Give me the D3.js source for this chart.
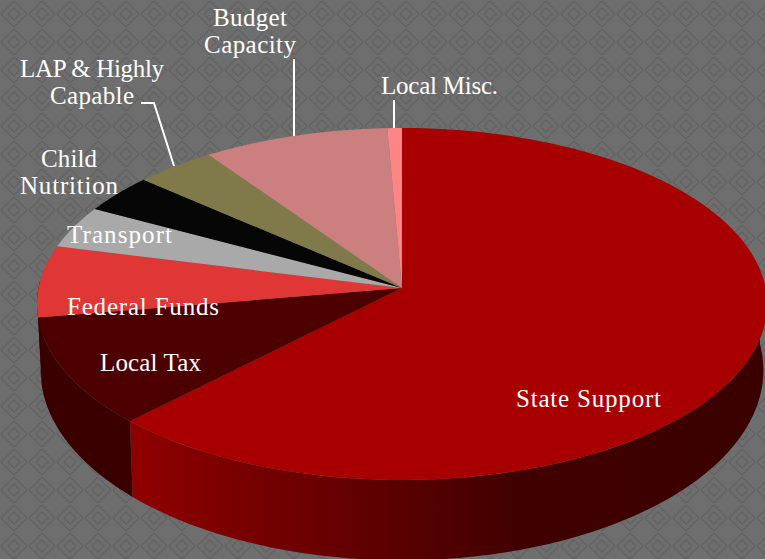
<!DOCTYPE html>
<html>
<head>
<meta charset="utf-8">
<script src="https://cdnjs.cloudflare.com/ajax/libs/d3/7.8.5/d3.min.js"></script>
<style>
html, body { margin: 0; padding: 0; background: #707070; }
svg { display: block; }
text { font-family: "Liberation Serif", serif; font-size: 25px; fill: #fff; text-anchor: middle; }
</style>
</head>
<body>
<svg id="chart" width="765" height="559"></svg>
<script>
var categories = ['State Support', 'Local Tax', 'Federal Funds', 'Transport', 'Child Nutrition', 'LAP & Highly Capable', 'Budget Capacity', 'Local Misc.'];
var values = [62.4, 10.0, 6.6, 3.9, 3.6, 3.9, 9.0, 0.7];
var colors = ['#a80000', '#4d0000', '#e03636', '#a9a9a9', '#060606', '#807a4a', '#cb7f7f', '#ff8585'];
var sideColors = ['#7a0000', '#3a0000', '#3a0000', '#777', '#030303', '#5a5530', '#8f5a5a', '#b56060'];

var svg = d3.select('#chart');
var width = 765, height = 559;

// background tile
var defs = svg.append('defs');
var tile = defs.append('pattern')
    .attr('id', 'bgTile')
    .attr('patternUnits', 'userSpaceOnUse')
    .attr('width', 28)
    .attr('height', 28);
tile.append('rect').attr('width', 28).attr('height', 28).attr('fill', '#6e6e6e');
[6, 13].forEach(function(r){
    tile.append('path')
        .attr('d', 'M' + (14 - r) + ',14 L14,' + (14 - r) + ' L' + (14 + r) + ',14 L14,' + (14 + r) + ' Z')
        .attr('fill', 'none')
        .attr('stroke', '#5f5f5f')
        .attr('stroke-width', 1.6)
        .attr('stroke-dasharray', '1.6 0.7');
});
svg.append('rect').attr('width', width).attr('height', height).attr('fill', 'url(#bgTile)');

// perspective projection of the pie disc
var cx = 402, cy = 288, A = 363.5, B = 174.5, persp = 0.0909;
var depth = 65, bottomScaleX = 0.99, bottomScaleY = 1.08;

function project(angle, level){
    var u = Math.sin(angle), v = -Math.cos(angle);
    var w = 1 - persp * v;
    var sx = level ? bottomScaleX : 1;
    var sy = level ? bottomScaleY : 1;
    return [cx + sx * A * u / w, cy + (level ? depth : 0) + sy * B * v / w];
}

function arcAngles(a0, a1){
    return d3.range(0, 1.0001, 1 / 120).map(function(t){ return a0 + (a1 - a0) * t; });
}

var line = d3.line();
var pie = d3.pie().sort(null).value(function(d){ return d; });
var slices = pie(values);

// gradient for the long front wall
var wallGrad = defs.append('linearGradient')
    .attr('id', 'wallGrad')
    .attr('gradientUnits', 'userSpaceOnUse')
    .attr('x1', 130).attr('x2', 765).attr('y1', 0).attr('y2', 0);
[[0, '#900000'], [0.2, '#750000'], [0.42, '#5a0000'], [0.62, '#400000'], [1, '#3a0000']].forEach(function(s){
    wallGrad.append('stop').attr('offset', s[0]).attr('stop-color', s[1]);
});

// walls, only the part facing the viewer
slices.forEach(function(d, i){
    var a0 = Math.max(d.startAngle, Math.PI / 2 - 0.05);
    var a1 = Math.min(d.endAngle, 3 * Math.PI / 2 + 0.05);
    if (a0 >= a1) return;
    var top = arcAngles(a0, a1).map(function(a){ return project(a, 0); });
    var bottom = arcAngles(a1, a0).map(function(a){ return project(a, 1); });
    svg.append('path')
        .attr('d', line(top.concat(bottom)) + 'Z')
        .attr('fill', i === 0 ? 'url(#wallGrad)' : sideColors[i]);
});

// top faces
slices.forEach(function(d, i){
    var pts = [[cx, cy]].concat(arcAngles(d.startAngle, d.endAngle).map(function(a){ return project(a, 0); }));
    svg.append('path')
        .attr('d', line(pts) + 'Z')
        .attr('fill', colors[i]);
});

// leader lines
var leaders = [
    [[141, 103], [154, 103], [174, 166]],
    [[294, 59], [294, 136]],
    [[394, 100], [394, 128]]
];
svg.selectAll('path.leader').data(leaders).enter().append('path')
    .attr('class', 'leader')
    .attr('d', function(d){ return line(d); })
    .attr('fill', 'none')
    .attr('stroke', '#fff')
    .attr('stroke-width', 2);

// labels, widths fitted because Georgia is not installed
var labelLines = [['State Support'], ['Local Tax'], ['Federal Funds'], ['Transport'], ['Child', 'Nutrition'], ['LAP & Highly', 'Capable'], ['Budget', 'Capacity'], ['Local Misc.']];
var labelWidths = [[145], [101], [152], [105], [56, 98], [144, 84], [74, 92], [117]];
var labelAnchors = [[588.5, 407], [150.5, 371], [143, 315], [119.5, 243], [69, 167], [92, 77], [250, 26], [439.5, 94]];
labelLines.forEach(function(rows, i){
    rows.forEach(function(row, j){
        svg.append('text')
            .attr('x', labelAnchors[i][0])
            .attr('y', labelAnchors[i][1] + j * 27)
            .attr('textLength', labelWidths[i][j])
            .text(row);
    });
});
</script>
</body>
</html>
